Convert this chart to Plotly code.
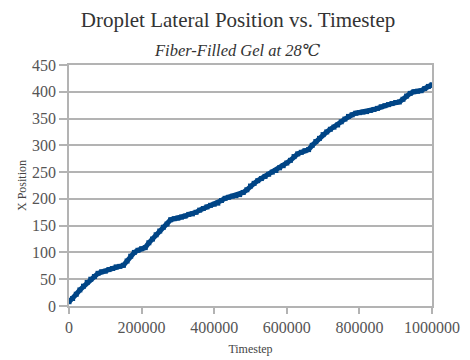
import plotly.graph_objects as go

timesteps = [i * 10000 for i in range(101)]
x_position = [
    8, 14, 22, 30, 37, 44, 50, 55, 61, 64,
    65, 68, 70, 73, 74, 76, 84, 93, 100, 104,
    107, 109, 118, 125, 133, 140, 147, 153, 161, 163,
    164, 166, 168, 171, 172, 175, 179, 182, 185, 188,
    190, 192, 197, 201, 203, 205, 206, 208, 212, 217,
    224, 229, 234, 238, 242, 246, 250, 253, 258, 262,
    267, 272, 279, 284, 287, 290, 292, 300, 307, 313,
    320, 325, 330, 334, 338, 344, 349, 354, 357, 360,
    361, 362, 363, 365, 367, 369, 372, 374, 376, 378,
    380, 381, 386, 392, 397, 400, 401, 402, 406, 410,
    413,
]
y_ticks = [0, 50, 100, 150, 200, 250, 300, 350, 400, 450]
x_ticks = [0, 200000, 400000, 600000, 800000, 1000000]

title_text = "Droplet Lateral Position vs. Timestep"
subtitle_text = "Fiber-Filled Gel at 28℃"

serif = "Liberation Serif, DejaVu Serif, serif"
line_color = "#004586"
grid_color = "#b3b3b3"

# page body has an 8px margin, so the figure is drawn 8px smaller and offset
W, H = 462, 352
fig = go.Figure()
fig.add_trace(go.Scatter(
    x=timesteps, y=x_position, mode="lines+markers",
    line=dict(color=line_color, width=5),
    marker=dict(symbol="square", size=5, color=line_color),
    showlegend=False, hoverinfo="skip",
))

fig.update_layout(
    width=W, height=H,
    margin=dict(l=61, r=38, t=57, b=54),
    paper_bgcolor="white", plot_bgcolor="white",
    font=dict(family=serif, color="#444444"),
    title=dict(text=title_text, x=230 / W, xanchor="center", y=1 - 12 / H, yanchor="middle",
               font=dict(family=serif, size=21, color="#333333")),
    annotations=[dict(text=subtitle_text, xref="paper", yref="paper",
                      x=(237.5 - 69) / 363, y=1 + 15 / 241, xanchor="center", yanchor="middle",
                      showarrow=False,
                      font=dict(family=serif, size=16.5, color="#333333", style="italic"))],
)
fig.update_xaxes(
    range=[0, 1000000], tickvals=x_ticks, ticktext=[str(v) for v in x_ticks],
    showgrid=False, zeroline=False, automargin=False,
    showline=True, linecolor=grid_color, linewidth=1.5, mirror=True,
    ticks="outside", ticklen=6, tickcolor=grid_color, tickwidth=1.5,
    tickfont=dict(family=serif, size=16, color="#555555"),
    title=dict(text="Timestep", font=dict(family=serif, size=12, color="#444444"), standoff=10),
)
fig.update_yaxes(
    range=[0, 450], tickvals=y_ticks,
    showgrid=True, gridcolor=grid_color, gridwidth=1.5, zeroline=False, automargin=False,
    showline=True, linecolor=grid_color, linewidth=1.5, mirror=True,
    ticks="outside", ticklen=8, tickcolor=grid_color, tickwidth=1.5,
    tickfont=dict(family=serif, size=16, color="#555555"),
    title=dict(text="X Position", font=dict(family=serif, size=12, color="#444444"), standoff=3),
)

fig.write_html("out.html")
